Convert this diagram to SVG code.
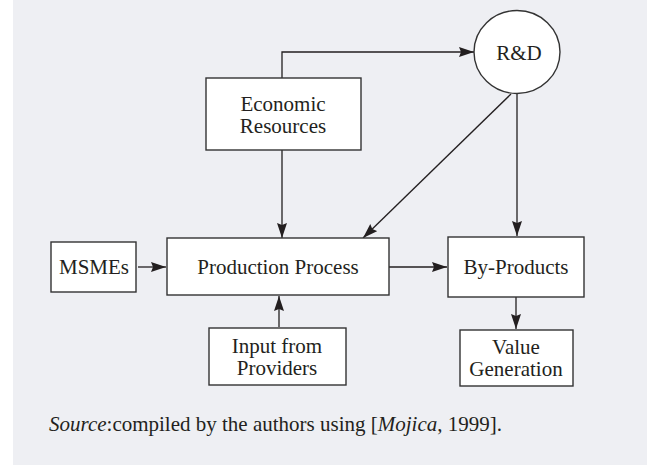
<svg xmlns="http://www.w3.org/2000/svg" width="647" height="466" viewBox="0 0 647 466">
<defs>
<style>
.box{fill:#ffffff;stroke:#333333;stroke-width:1.4}
.t{font-family:"Liberation Serif",serif;font-size:21px;fill:#231F20;text-anchor:middle}
.c{fill:none;stroke:#231F20;stroke-width:1.3;marker-end:url(#ah)}
</style>
<marker id="ah" markerUnits="userSpaceOnUse" markerWidth="16" markerHeight="11" refX="15" refY="5" orient="auto">
<path d="M0,0 L15,5 L0,10 L2,5 z" fill="#231F20"/>
</marker>
</defs>
<rect x="0" y="0" width="647" height="466" fill="#ffffff"/>
<rect x="13" y="0" width="634" height="465" fill="#EEEFF3"/>
<g id="connectors">
<path class="c" d="M282,78 V52 H474"/>
<path class="c" d="M282,150 V238"/>
<path class="c" d="M511,94 L363,238"/>
<path class="c" d="M517,94 V236"/>
<path class="c" d="M138,267 H166"/>
<path class="c" d="M279,327 V296"/>
<path class="c" d="M389,267 H447"/>
<path class="c" d="M516,297 V329"/>
</g>
<g id="rd">
<ellipse cx="517" cy="52" rx="43" ry="41.5" class="box"/>
<text class="t" x="519" y="60">R&amp;D</text>
</g>
<g id="economic">
<rect class="box" x="206" y="78" width="155" height="72"/>
<text class="t" x="283" y="111">Economic</text>
<text class="t" x="283" y="133">Resources</text>
</g>
<g id="msmes">
<rect class="box" x="51" y="242" width="85" height="50"/>
<text class="t" x="94" y="274">MSMEs</text>
</g>
<g id="production">
<rect class="box" x="167" y="238" width="222" height="57"/>
<text class="t" x="278" y="274">Production Process</text>
</g>
<g id="byproducts">
<rect class="box" x="448" y="237" width="136" height="60"/>
<text class="t" x="516" y="274">By-Products</text>
</g>
<g id="input">
<rect class="box" x="209" y="328" width="137" height="57"/>
<text class="t" x="277" y="353">Input from</text>
<text class="t" x="277" y="375">Providers</text>
</g>
<g id="value">
<rect class="box" x="460" y="330" width="113" height="56"/>
<text class="t" x="516" y="354">Value</text>
<text class="t" x="516" y="376">Generation</text>
</g>
<text x="49" y="431" style="font-family:'Liberation Serif',serif;font-size:21px;fill:#231F20"><tspan font-style="italic">Source</tspan>:compiled by the authors using [<tspan font-style="italic">Mojica</tspan>, 1999].</text>
</svg>
